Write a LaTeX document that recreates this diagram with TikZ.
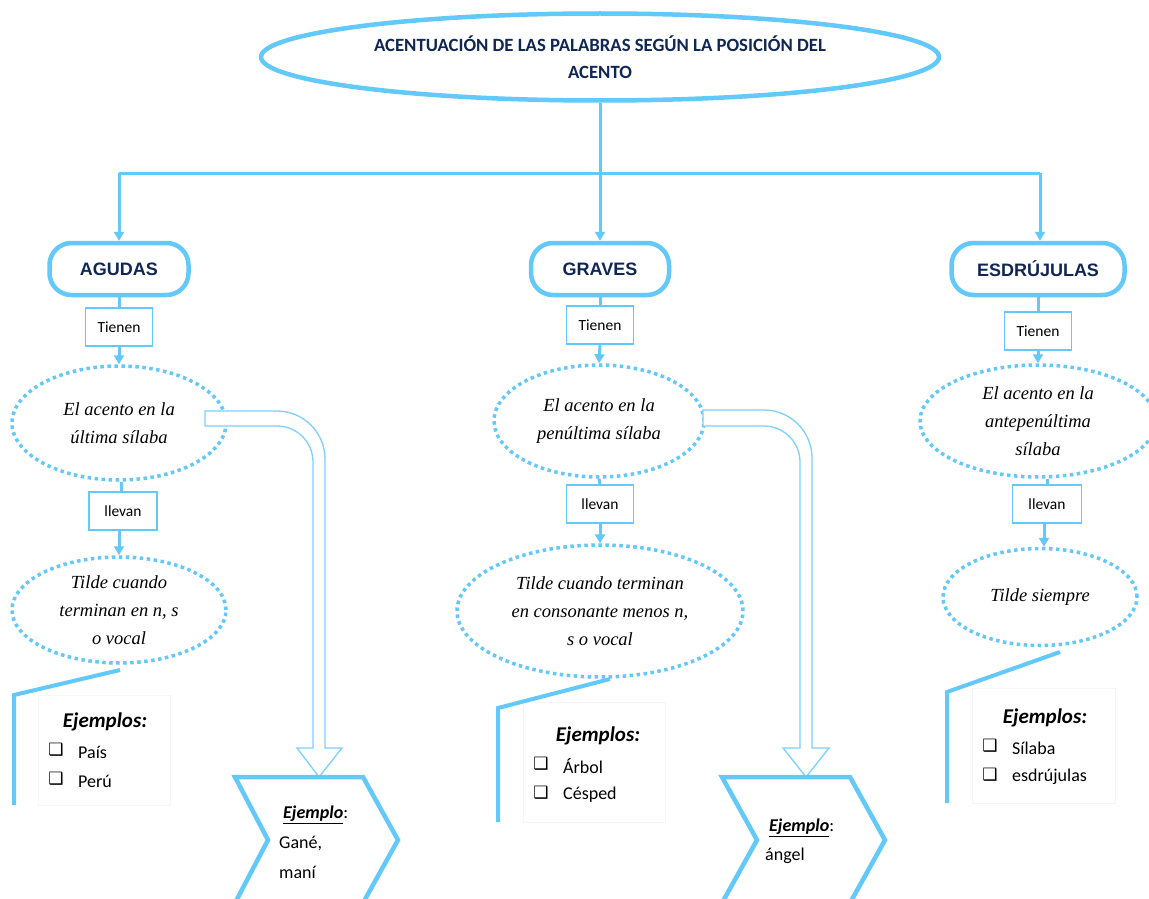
\documentclass[tikz,border=0pt]{standalone}
\usepackage{fontspec}
\setmainfont{Carlito}
\newfontfamily\arialf{Liberation Sans}
\newfontfamily\timesf{Liberation Serif}
\newfontfamily\symf{DejaVu Sans}
\usetikzlibrary{shapes.geometric,arrows.meta}
\definecolor{cblue}{RGB}{99,200,250}
\definecolor{clight}{RGB}{125,208,255}
\definecolor{navy}{RGB}{16,38,84}
\definecolor{faint}{RGB}{246,246,246}
\begin{document}
\begin{tikzpicture}[x=1pt,y=-1pt,
 titlebox/.style={ellipse,draw=cblue,line width=4.5pt,minimum width=678pt,minimum height=87pt,inner sep=0pt,align=center,text=navy,font=\fontsize{18.7}{27}\selectfont\bfseries},
 catbox/.style={draw=cblue,line width=4.5pt,rounded corners=22pt,minimum height=52pt,inner sep=0pt,text=navy,font=\arialf\bfseries\fontsize{18}{22}\selectfont},
 verbbox/.style={draw=cblue,line width=1.6pt,minimum width=67pt,minimum height=38pt,inner sep=0pt,font=\fontsize{15.5}{18}\selectfont},
 dotell/.style={ellipse,draw=cblue,line width=3.5pt,dash pattern=on 3.5pt off 3.5pt,fill=white,inner sep=0pt,align=center,font=\timesf\itshape\fontsize{18.5}{28}\selectfont},
 link/.style={draw=cblue,line width=3pt},
 arr/.style={link,-{Triangle[length=9pt,width=10pt]}},
 hollow/.style={draw=clight,line width=1.3pt,fill=white,line join=miter},
 chev/.style={draw=cblue,line width=4.5pt,line join=miter},
 callout/.style={draw=cblue,line width=4pt},
 exbox/.style={draw=faint,line width=0.6pt},
 exhead/.style={font=\bfseries\itshape\fontsize{21}{24}\selectfont},
 exitem/.style={anchor=west,inner sep=0pt,font=\fontsize{18}{22}\selectfont},
 chk/.style={inner sep=0pt,font=\symf\fontsize{17}{18}\selectfont},
 ctext/.style={anchor=west,inner sep=0pt,font=\fontsize{18}{22}\selectfont},
 ]
\useasboundingbox (0,0) rectangle (1149,899);
\clip (0,0) rectangle (1149,899);
\fill[white] (0,0) rectangle (1149,899);

% title and tree
\node[titlebox] (title) at (600,57) {ACENTUACIÓN DE LAS PALABRAS SEGÚN LA POSICIÓN DEL\\ACENTO};
\coordinate (jt) at (600,173);
\coordinate (jl) at (119,173);
\coordinate (jr) at (1040,173);

\node[catbox,minimum width=139pt] (agudas) at (119,269) {AGUDAS};
\node[catbox,minimum width=138pt] (graves) at (600,269) {GRAVES};
\node[catbox,minimum width=173pt] (esdr) at (1038,269) {ESDRÚJULAS};

\draw[link] (title.south) -- (jt);
\draw[link] (jl) -- (jr);
\draw[arr] (jl) -- (agudas.north);
\draw[arr] (jt) -- (graves.north);
\draw[arr] (jr) -- (jr |- esdr.north);

% verb boxes
\node[verbbox] (t1) at (119,327) {Tienen};
\node[verbbox] (t2) at (600,325) {Tienen};
\node[verbbox] (t3) at (1038,331) {Tienen};

% first ellipses
\node[dotell,minimum width=214pt,minimum height=114pt] (e1) at (119,423) {El acento en la\\última sílaba};
\node[dotell,minimum width=210pt,minimum height=112pt] (e2) at (599,421) {El acento en la\\penúltima sílaba};
\node[dotell,minimum width=236pt,minimum height=112pt] (e3) at (1038,421) {El acento en la\\antepenúltima\\sílaba};

\node[verbbox,minimum width=68pt] (l1) at (123,511) {llevan};
\node[verbbox] (l2) at (600,504) {llevan};
\node[verbbox,minimum width=69pt] (l3) at (1047,504) {llevan};

\node[dotell,minimum width=214pt,minimum height=106pt] (f1) at (119,610) {Tilde cuando\\terminan en n, s\\o vocal};
\node[dotell,minimum width=286pt,minimum height=132pt] (f2) at (600,611) {Tilde cuando terminan\\en consonante menos n,\\s o vocal};
\node[dotell,minimum width=194pt,minimum height=97pt] (f3) at (1040,597) {Tilde siempre};

\draw[link] (agudas.south) -- (t1.north);
\draw[link] (graves.south) -- (t2.north);
\draw[link] (esdr.south -| t3.north) -- (t3.north);
\draw[arr] (t1.south) -- (e1.north);
\draw[arr] (t2.south) -- (e2.north);
\draw[arr] (t3.south) -- (e3.north -| t3.south);
\draw[link] (e1.south -| 121,0) -- (121,0 |- l1.north);
\draw[link] (e2.south) -- (l2.north);
\draw[link] (e3.south -| l3.north) -- (l3.north);
\draw[arr] (l1.south -| 119,0) -- (f1.north);
\draw[arr] (l2.south) -- (f2.north);
\draw[arr] (l3.south -| 1044,0) -- (1044,0 |- f3.north);

% hollow bent arrows
\draw[hollow] (205,411) -- (277,411) .. controls (303.5,411) and (325,432.5) .. (325,459) -- (325,748) -- (342,748) -- (319,777) -- (297,748) -- (313,748) -- (313,462) .. controls (313,442.1) and (296.9,426) .. (277,426) -- (205,426) -- cycle;
\draw[hollow] (703,410) -- (764,410) .. controls (790.5,410) and (812,431.5) .. (812,458) -- (812,748) -- (829,748) -- (806,777) -- (783,748) -- (800,748) -- (800,462) .. controls (800,442.1) and (783.9,426) .. (764,426) -- (703,426) -- cycle;

% chevrons
\draw[chev] (235,777) -- (363,777) -- (398,840) -- (363,903) -- (235,903) -- (268,840) -- cycle;
\node[ctext] (c1a) at (283,815) {\underline{\textbf{\textit{Ejemplo}}}:};
\node[ctext] (c1b) at (279,843) {Gané,};
\node[ctext] (c1c) at (279,872) {maní};
\draw[chev] (722,777) -- (850,777) -- (885,840) -- (850,903) -- (722,903) -- (757,840) -- cycle;
\node[ctext] (c2a) at (769,828) {\underline{\textbf{\textit{Ejemplo}}}:};
\node[ctext] (c2b) at (765,856) {ángel};

% callouts with examples
\draw[exbox] (38,695) rectangle (170,805);
\draw[callout] (120,670) -- (14,695) -- (14,805);
\node[exhead] (x1) at (105,722) {Ejemplos:};
\node[chk] (k1a) at (56,750) {❑};
\node[exitem] (i1a) at (78,752) {País};
\node[chk] (k1b) at (56,779) {❑};
\node[exitem] (i1b) at (78,781) {Perú};

\draw[exbox] (523,702) rectangle (665,822);
\draw[callout] (610,679) -- (498,708) -- (498,822);
\node[exhead] (x2) at (598,736) {Ejemplos:};
\node[chk] (k2a) at (541,764) {❑};
\node[exitem] (i2a) at (563,766) {Árbol};
\node[chk] (k2b) at (541,793) {❑};
\node[exitem] (i2b) at (563,795) {Césped};

\draw[exbox] (972,688) rectangle (1115,803);
\draw[callout] (1060,652) -- (947,692) -- (947,803);
\node[exhead] (x3) at (1045,718) {Ejemplos:};
\node[chk] (k3a) at (990,746) {❑};
\node[exitem] (i3a) at (1012,748) {Sílaba};
\node[chk] (k3b) at (990,775) {❑};
\node[exitem] (i3b) at (1012,777) {esdrújulas};
\end{tikzpicture}
\end{document}
